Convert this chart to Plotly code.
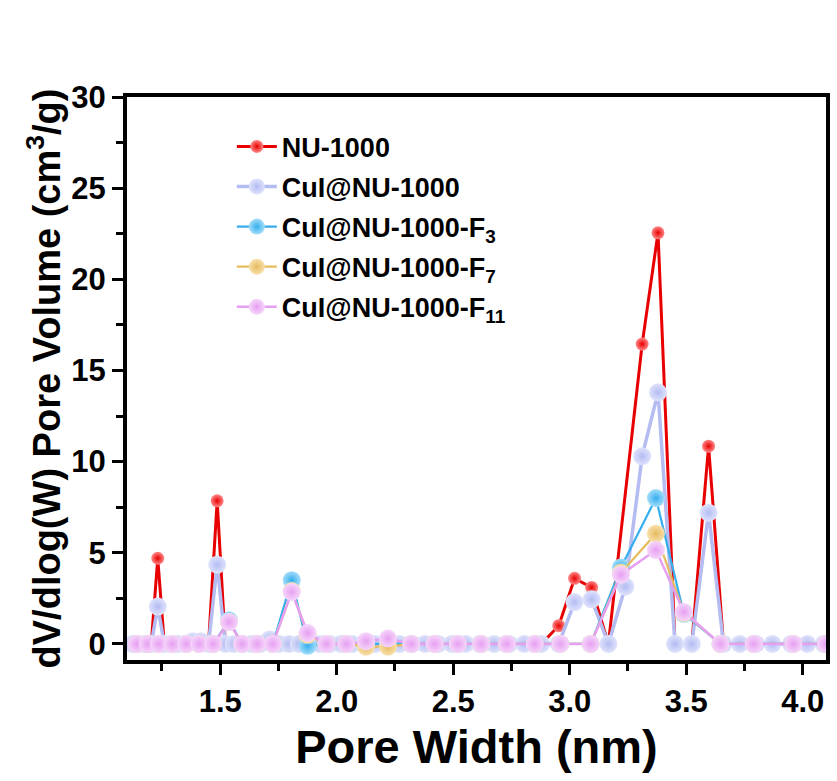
import plotly.graph_objects as go

# ---------------- data ----------------
x_nu1000 = [1.124, 1.150, 1.177, 1.204, 1.232, 1.260, 1.290, 1.320, 1.351, 1.383,
            1.416, 1.450, 1.487, 1.522, 1.558, 1.595, 1.633, 1.672, 1.712, 1.752,
            1.794, 1.837, 1.880, 1.925, 1.971, 2.018, 2.066, 2.115, 2.165, 2.217,
            2.270, 2.324, 2.379, 2.436, 2.494, 2.553, 2.614, 2.676, 2.740, 2.805,
            2.878, 2.953, 3.021, 3.094, 3.166, 3.311, 3.379, 3.452, 3.524,
            3.596, 3.660, 3.730, 3.800, 3.870, 3.950, 4.020, 4.090]

y_nu1000 = [0, 0, 0, 0, 4.7, 0, 0, 0, 0, 0,
            0, 0, 7.85, 0, 0, 0, 0, 0, 0, 0,
            0, 0, 0, 0, 0, 0, 0, 0, 0, 0,
            0, 0, 0, 0, 0, 0, 0, 0, 0, 0,
            0, 1.0, 3.6, 3.1, 0, 16.45, 22.55, 0, 0,
            10.85, 0, 0, 0, 0, 0, 0, 0]

x_cui = [1.124, 1.150, 1.177, 1.204, 1.232, 1.260, 1.290, 1.320, 1.351, 1.383,
         1.416, 1.450, 1.487, 1.522, 1.558, 1.595, 1.633, 1.672, 1.712, 1.752,
         1.794, 1.837, 1.880, 1.925, 1.971, 2.018, 2.066, 2.115, 2.165, 2.217,
         2.270, 2.324, 2.379, 2.436, 2.494, 2.553, 2.614, 2.676, 2.740, 2.805,
         2.878, 2.953, 3.021, 3.094, 3.166, 3.239, 3.311, 3.379, 3.452, 3.524,
         3.596, 3.660, 3.730, 3.800, 3.870, 3.950, 4.020, 4.090]

y_cui = [0, 0, 0, 0, 2.05, 0, 0, 0, 0, 0.15,
         0.15, 0, 4.35, 0, 0, 0, 0, 0, 0.25, 0,
         0, 0, 0, 0, 0, 0, 0, 0, 0, 0,
         0, 0, 0, 0, 0, 0, 0, 0, 0, 0,
         0, 0, 2.3, 2.45, 0, 3.15, 10.3, 13.8, 0, 0,
         7.2, 0, 0, 0, 0, 0, 0, 0]

x_f = [1.142, 1.189, 1.236, 1.295, 1.355, 1.410, 1.470, 1.538, 1.594, 1.658,
       1.726, 1.807, 1.875, 1.956, 2.041, 2.126, 2.220, 2.320, 2.420, 2.520,
       2.620, 2.730, 2.850, 2.960, 3.090, 3.220, 3.370, 3.490, 3.647, 3.790,
       3.960, 4.100]

y_f3 = [0, 0, 0, 0, 0, 0, 0, 1.3, 0, 0,
        0, 3.5, -0.1, 0, 0, 0, 0, 0, 0, 0,
        0, 0, 0, 0, 0, 4.2, 8.0, 1.65, 0, 0,
        0, 0]

y_f7 = [0, 0, 0, 0, 0, 0, 0, 1.2, 0, 0,
        0, 2.9, 0.5, 0, 0, -0.15, -0.15, 0, 0, 0,
        0, 0, 0, 0, 0, 3.9, 6.05, 1.7, 0, 0,
        0, 0]

y_f11 = [0, 0, 0, 0, 0, 0, 0, 1.2, 0, 0,
         0, 2.85, 0.6, 0, 0, 0.15, 0.3, 0, 0, 0,
         0, 0, 0, 0, 0, 3.8, 5.15, 1.75, 0, 0,
         0, 0]

names = ["NU-1000", "CuI@NU-1000", "CuI@NU-1000-F<sub>3</sub>",
         "CuI@NU-1000-F<sub>7</sub>", "CuI@NU-1000-F<sub>11</sub>"]

# ---------------- figure ----------------
FONT = "Liberation Sans, Arial, sans-serif"

series = [
    (x_nu1000, y_nu1000, names[0], "#e80000", "#ff8a8a", 13, 3),
    (x_cui, y_cui, names[1], "#b4bcf2", "#dfe3fc", 18, 3.5),
    (x_f, y_f3, names[2], "#35aeee", "#a6def9", 18, 2.2),
    (x_f, y_f7, names[3], "#e6bb5e", "#f8e1ae", 18, 2.2),
    (x_f, y_f11, names[4], "#e6a0f1", "#f6d6fb", 18, 2.5),
]

fig = go.Figure()
for i, (xs, ys, nm, col, hl, ms, lw) in enumerate(series):
    fig.add_trace(go.Scatter(
        x=xs, y=ys, name=nm, mode="lines+markers",
        legendgroup=str(i),
        line=dict(color=col, width=lw),
        marker=dict(size=ms, color=hl, line=dict(width=0),
                    gradient=dict(type="radial", color=col)),
    ))

axis_common = dict(
    showline=True, linecolor="black", linewidth=4, mirror=True,
    ticks="outside", ticklen=11, tickwidth=3, tickcolor="black",
    showgrid=False, zeroline=False,
    tickfont=dict(family=FONT, size=31, color="black", weight="bold"),
)

fig.update_xaxes(
    range=[1.1, 4.1], tick0=1.5, dtick=0.5, tickformat=".1f",
    minor=dict(ticks="outside", ticklen=7, tickwidth=3, dtick=0.25, tick0=1.25,
               tickcolor="black", showgrid=False),
    title=dict(text="Pore Width (nm)", standoff=13,
               font=dict(family=FONT, size=47, color="black", weight="bold")),
    **axis_common,
)
fig.update_yaxes(
    range=[-0.88, 30], tick0=0, dtick=5,
    minor=dict(ticks="outside", ticklen=7, tickwidth=3, dtick=2.5, tick0=0,
               tickcolor="black", showgrid=False),
    title=dict(text="dV/dlog(W) Pore Volume (cm<sup>3</sup>/g)", standoff=0,
               font=dict(family=FONT, size=38, color="black", weight="bold")),
    **axis_common,
)

fig.update_layout(
    width=837, height=781,
    margin=dict(l=127, r=7, t=97, b=121),
    paper_bgcolor="white", plot_bgcolor="white",
    showlegend=True,
    legend=dict(
        x=0.15, y=0.955, xanchor="left", yanchor="top",
        bgcolor="rgba(0,0,0,0)", borderwidth=0,
        font=dict(family=FONT, size=27, color="black", weight="bold"),
        traceorder="grouped", tracegroupgap=2,
        itemwidth=40,
    ),
)

fig.write_html("out.html")
